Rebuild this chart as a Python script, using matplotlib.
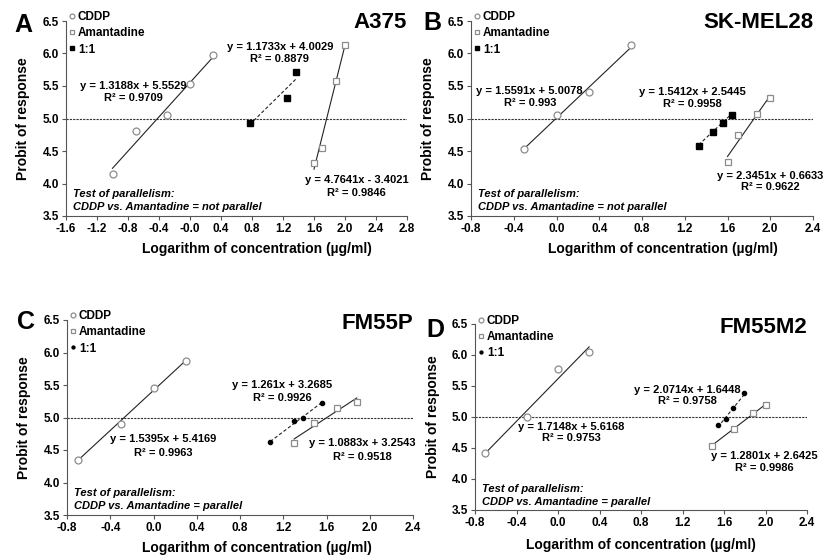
import matplotlib
matplotlib.use("Agg")
import matplotlib.pyplot as plt
import numpy as np

plt.rcParams['font.family'] = ['Liberation Sans', 'DejaVu Sans']
plt.rcParams['font.weight'] = 'bold'

# ---------------- data ----------------
panel_letters = ["A", "B", "C", "D"]
cell_lines = ["A375", "SK-MEL28", "FM55P", "FM55M2"]
series_names = ["CDDP", "Amantadine", "1:1"]

# Panel A (A375)
a_cddp_x = [-1.0, -0.7, -0.3, 0.0, 0.3]
a_cddp_y = [4.14, 4.81, 5.05, 5.53, 5.98]
a_amant_x = [1.6, 1.7, 1.88, 2.0]
a_amant_y = [4.32, 4.54, 5.57, 6.13]
a_mix_x = [0.77, 1.25, 1.37]
a_mix_y = [4.93, 5.31, 5.72]

# Panel B (SK-MEL28)
b_cddp_x = [-0.3, 0.0, 0.3, 0.7]
b_cddp_y = [4.53, 5.05, 5.40, 6.13]
b_amant_x = [1.6, 1.7, 1.88, 2.0]
b_amant_y = [4.33, 4.75, 5.07, 5.31]
b_mix_x = [1.33, 1.46, 1.56, 1.64]
b_mix_y = [4.58, 4.80, 4.93, 5.05]

# Panel C (FM55P)
c_cddp_x = [-0.7, -0.3, 0.0, 0.3]
c_cddp_y = [4.35, 4.90, 5.46, 5.87]
c_amant_x = [1.3, 1.48, 1.7, 1.88]
c_amant_y = [4.61, 4.91, 5.15, 5.24]
c_mix_x = [1.08, 1.30, 1.38, 1.56]
c_mix_y = [4.63, 4.95, 5.00, 5.23]

# Panel D (FM55M2)
d_cddp_x = [-0.7, -0.3, 0.0, 0.3]
d_cddp_y = [4.42, 5.00, 5.77, 6.05]
d_amant_x = [1.48, 1.7, 1.88, 2.0]
d_amant_y = [4.53, 4.81, 5.06, 5.19]
d_mix_x = [1.54, 1.62, 1.69, 1.79]
d_mix_y = [4.87, 4.96, 5.14, 5.38]

# Fit coefficients (slope, intercept, R2) for CDDP, Amantadine, 1:1
a_fits = [(1.3188, 5.5529, "0.9709"), (4.7641, -3.4021, "0.9846"), (1.1733, 4.0029, "0.8879")]
b_fits = [(1.5591, 5.0078, "0.993"), (2.3451, 0.6633, "0.9622"), (1.5412, 2.5445, "0.9958")]
c_fits = [(1.5395, 5.4169, "0.9963"), (1.0883, 3.2543, "0.9518"), (1.261, 3.2685, "0.9926")]
d_fits = [(1.7148, 5.6168, "0.9753"), (1.2801, 2.6425, "0.9986"), (2.0714, 1.6448, "0.9758")]

parallel_result = ["not parallel", "not parallel", "parallel", "parallel"]

x_ranges = [(-1.6, 2.8), (-0.8, 2.4), (-0.8, 2.4), (-0.8, 2.4)]
y_range = (3.5, 6.5)

# ---------------- layout ----------------
fig = plt.figure(figsize=(8.24, 5.57), dpi=100)
W, H = 824, 557
def ax_rect(l, r, t, b):
    return [l / W, 1 - b / H, (r - l) / W, (b - t) / H]

rects = [ax_rect(66, 407, 21, 216), ax_rect(471, 813, 21, 216),
         ax_rect(67, 413, 320, 515), ax_rect(475, 807, 324, 510)]

panels = [
    (a_cddp_x, a_cddp_y, a_amant_x, a_amant_y, a_mix_x, a_mix_y, a_fits),
    (b_cddp_x, b_cddp_y, b_amant_x, b_amant_y, b_mix_x, b_mix_y, b_fits),
    (c_cddp_x, c_cddp_y, c_amant_x, c_amant_y, c_mix_x, c_mix_y, c_fits),
    (d_cddp_x, d_cddp_y, d_amant_x, d_amant_y, d_mix_x, d_mix_y, d_fits),
]

# label positions (data coords): cddp, amant, mix -> (x, y_eq, y_r2)
label_pos = [
    [(-0.73, 5.50, 5.32), (2.15, 4.05, 3.86), (1.16, 6.10, 5.91)],
    [(-0.25, 5.42, 5.24), (2.00, 4.12, 3.94), (1.27, 5.41, 5.22)],
    [(0.09, 4.67, 4.46), (1.93, 4.60, 4.40), (1.19, 5.50, 5.30)],
    [(0.125, 4.84, 4.66), (1.99, 4.37, 4.18), (1.25, 5.44, 5.26)],
]
mix_marker = ['s', 's', 'o', 'o']
mix_size = [4.5, 4.5, 3.0, 3.0]
letter_pos = [(14, 25), (423, 23), (17, 322), (426, 330)]
xlabel_offsets = [0.56, 0.56, 0.55, 0.5]
xlabel_y = [-0.135, -0.135, -0.135, -0.15]
title_y = [0.99, 0.99, 0.98, 0.98]

grey = '#8c8c8c'
for i, rect in enumerate(rects):
    ax = fig.add_axes(rect)
    cx, cy, axx, ay, mx, my, fits = panels[i]
    ax.set_xlim(*x_ranges[i])
    ax.set_ylim(*y_range)
    ax.axhline(5.0, color='#333333', lw=0.8, ls=(0, (2, 1)), zorder=1)

    # trendlines
    for (xs, fit, ls) in [(cx, fits[0], '-'), (axx, fits[1], '-'), (mx, fits[2], (0, (3, 2)))]:
        xx = np.array([min(xs), max(xs)])
        ax.plot(xx, fit[0] * xx + fit[1], color='#222222', lw=0.8, ls=ls, zorder=2)

    ax.plot(cx, cy, 'o', ms=5, mfc='white', mec=grey, mew=0.9, ls='none', label=series_names[0], zorder=3)
    ax.plot(axx, ay, 's', ms=5, mfc='white', mec=grey, mew=0.9, ls='none', label=series_names[1], zorder=3)
    ax.plot(mx, my, mix_marker[i], ms=mix_size[i], mfc='black', mec='black', ls='none', label=series_names[2], zorder=3)

    for k, fit in enumerate(fits):
        x0, ye, yr = label_pos[i][k]
        sign = '+' if fit[1] >= 0 else '-'
        eq = f"y = {fit[0]:g}x {sign} {abs(fit[1]):.4f}"
        ax.text(x0, ye, eq, ha='center', va='center', fontsize=8, fontweight='bold', zorder=4, clip_on=False)
        ax.text(x0, yr, f"R² = {fit[2]}", ha='center', va='center', fontsize=8, fontweight='bold', zorder=4, clip_on=False)

    ax.text(0.02, 0.115, "Test of parallelism:", transform=ax.transAxes, fontsize=8,
            fontweight='bold', style='italic', va='center', ha='left')
    ax.text(0.02, 0.045, f"CDDP vs. Amantadine = {parallel_result[i]}", transform=ax.transAxes,
            fontsize=8, fontweight='bold', style='italic', va='center', ha='left')

    ax.text(1.0, title_y[i], cell_lines[i], transform=ax.transAxes, ha='right', va='center',
            fontsize=16, fontweight='bold')
    lx, ly = letter_pos[i]
    fig.text(lx / W, 1 - ly / H, panel_letters[i], ha='left', va='center', fontsize=18, fontweight='bold')

    leg = ax.legend(loc='upper left', bbox_to_anchor=(0.0, 1.05), frameon=False, fontsize=8.5,
                    handletextpad=0.0, handlelength=1.0, borderaxespad=0.0, labelspacing=0.35,
                    borderpad=0.0, markerscale=0.7)
    for t in leg.get_texts():
        t.set_fontweight('bold')

    ticks = np.round(np.arange(x_ranges[i][0], x_ranges[i][1] + 0.001, 0.4), 1)
    ax.set_xticks(ticks)
    ax.set_xticklabels([f"{t:.1f}" for t in ticks])
    ax.set_yticks(np.arange(3.5, 6.51, 0.5))
    ax.set_yticklabels([f"{t:.1f}" for t in np.arange(3.5, 6.51, 0.5)])
    ax.tick_params(axis='both', direction='out', length=3, width=0.8, labelsize=8.5, color='#555555', pad=2)
    for lab in ax.get_xticklabels() + ax.get_yticklabels():
        lab.set_fontweight('bold')
    for s in ['top', 'right']:
        ax.spines[s].set_visible(False)
    for s in ['left', 'bottom']:
        ax.spines[s].set_color('#555555')
        ax.spines[s].set_linewidth(0.8)

    ax.set_ylabel("Probit of response", fontsize=10, fontweight='bold')
    ax.set_xlabel("Logarithm of concentration (µg/ml)", fontsize=10, fontweight='bold')
    ax.xaxis.set_label_coords(xlabel_offsets[i], xlabel_y[i])
    ax.yaxis.set_label_coords(-0.105, 0.5)

fig.savefig("out.png", dpi=100)
